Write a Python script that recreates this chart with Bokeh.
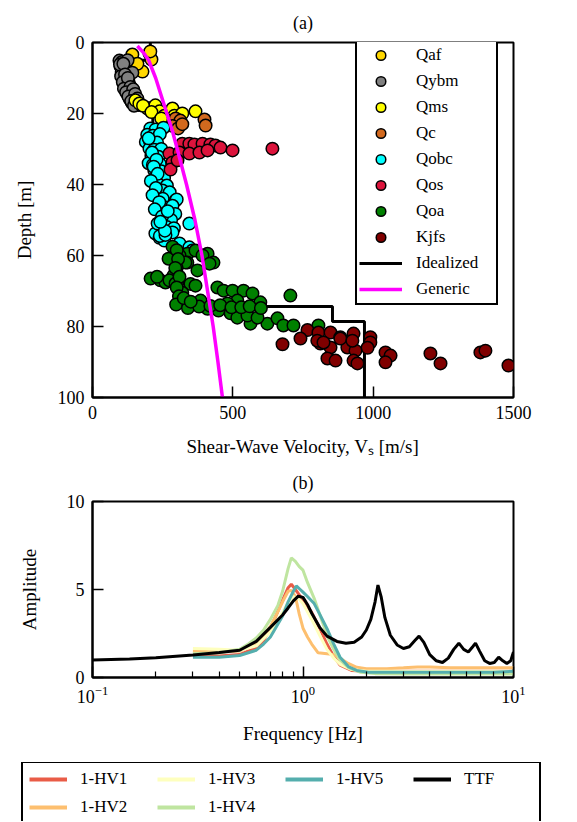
from bokeh.plotting import figure
from bokeh.models import Range1d, Legend, LegendItem, FixedTicker
from bokeh.layouts import column
from bokeh.embed import file_html
from bokeh.resources import INLINE

FONT = "Liberation Serif"

# ---------------- (a) data: (Vs [m/s], depth [m]) per unit ----------------
qaf_vs = [142, 203, 210, 178, 206, 160]
qaf_d = [3.4, 3.1, 4.8, 8.2, 2.5, 6.0]

qybm_vs = [96, 105, 112, 100, 108, 118, 104, 114, 122, 110, 119, 128, 115, 124, 134,
           120, 130, 142, 126, 137, 150, 133, 146, 158, 140, 155, 165, 125, 142, 132,
           98, 110, 102, 116, 108, 126, 112, 135, 120, 145, 128, 152, 138, 160, 148]
qybm_d = [5.1, 5.5, 6.0, 6.8, 7.2, 7.6, 8.3, 8.8, 9.2, 9.9, 10.5, 11.0, 11.6, 12.1, 12.6,
          13.2, 13.7, 14.1, 14.6, 15.0, 15.5, 15.9, 16.3, 16.6, 17.0, 17.3, 17.6, 5.0, 8.5, 12.0,
          6.2, 6.0, 9.5, 9.0, 11.2, 10.0, 13.0, 12.5, 14.0, 13.2, 15.2, 14.5, 16.5, 15.8, 17.8]

qms_vs = [153, 167, 196, 224, 239, 256, 285, 292, 320, 367, 267, 180, 210, 245]
qms_d = [16.3, 17.2, 18.6, 17.7, 19.4, 20.6, 18.6, 20.6, 20.0, 19.4, 22.0, 17.8, 19.6, 21.4]

qc_vs = [296, 313, 399, 403, 285, 305, 320]
qc_d = [21.4, 22.0, 21.7, 23.4, 23.5, 24.2, 23.0]

qobc_vs = [206, 225, 253, 195, 215, 240, 190, 205, 230, 203, 220, 245, 210, 235, 200,
           215, 240, 220, 245, 225, 255, 235, 265, 249, 275, 250, 296, 300, 260, 285,
           270, 295, 280, 345, 265, 290, 224, 239, 256, 285, 310, 345, 356, 240, 260,
           200, 212, 228, 218, 232, 208, 226, 214, 238, 222, 248, 232, 258, 242, 268]
qobc_d = [24.2, 24.5, 24.0, 26.0, 26.3, 25.8, 28.0, 27.8, 28.2, 29.9, 30.2, 30.0, 32.0, 32.2, 34.0,
          34.5, 34.2, 36.0, 36.3, 38.0, 38.2, 40.0, 40.3, 41.7, 42.2, 44.0, 44.5, 44.2, 46.5, 46.0,
          48.0, 48.3, 50.0, 51.0, 52.0, 52.3, 53.8, 55.0, 55.8, 53.5, 56.6, 57.7, 58.6, 54.5, 54.2,
          27.0, 31.0, 33.0, 35.0, 37.0, 39.0, 41.0, 43.0, 45.0, 47.0, 49.0, 51.0, 53.0, 50.5, 47.5]

qos_vs = [320, 345, 363, 392, 420, 438, 456, 499, 641, 274, 310, 345, 381, 410, 285, 278, 303]
qos_d = [28.5, 28.5, 28.7, 28.5, 28.7, 29.0, 29.6, 30.4, 29.9, 31.3, 31.0, 31.3, 31.0, 30.4, 33.8, 35.8, 33.2]

qoa_vs = [271, 338, 410, 431, 338, 374, 207, 242, 260, 303, 289, 349, 367, 385, 410, 449,
          492, 516, 563, 623, 659, 680, 716, 705, 445, 467, 499, 538, 570, 598, 516, 481,
          552, 588, 367, 392, 310, 331, 417, 274, 296, 805, 230, 320, 300, 285,
          300, 305, 295, 310, 300, 308, 298, 340, 380, 420, 455, 495, 530, 560, 600, 325, 350]
qoa_d = [60.9, 59.5, 59.5, 62.0, 62.0, 64.2, 66.5, 67.0, 67.6, 67.6, 65.6, 68.0, 68.5, 72.7, 75.0, 75.5,
         76.3, 77.5, 79.2, 79.2, 77.7, 79.7, 79.7, 71.3, 69.0, 69.9, 69.9, 69.9, 70.7, 73.2, 72.7, 73.5,
         76.9, 77.5, 58.6, 60.0, 60.0, 62.0, 62.3, 67.0, 67.9, 79.7, 66.0, 70.5, 63.5, 57.5,
         58.5, 61.0, 63.5, 66.0, 69.0, 71.5, 73.8, 74.8, 74.4, 74.2, 74.0, 74.6, 74.6, 74.3, 74.8, 72.0, 73.0]

kjfs_vs = [766, 805, 848, 883, 930, 990, 990, 980, 812, 848, 908, 937, 837, 866, 930, 944,
           1044, 1062, 1044, 1204, 1240, 1382, 1400, 1482, 741, 677, 801, 823, 883, 926]
kjfs_d = [81.0, 81.7, 81.7, 83.0, 82.0, 83.0, 84.5, 86.0, 84.8, 85.9, 85.9, 86.8, 89.0, 89.6, 89.6, 90.4,
          87.3, 88.2, 90.1, 87.6, 90.4, 87.3, 86.8, 91.0, 83.4, 85.0, 84.0, 84.5, 83.4, 84.0]

ideal_vs = [206, 206, 120, 120, 215, 215, 212, 212, 262, 262, 300, 300, 855, 855, 969, 969]
ideal_d = [0, 5, 5, 17, 17, 25, 25, 40, 40, 57, 57, 74.4, 74.4, 78.6, 78.6, 100]

gen_vs = [160, 183, 200, 225, 245, 265, 285, 302, 335, 365, 390, 410, 430, 447, 463]
gen_d = [1, 3, 5, 10, 15, 20, 25, 30, 40, 50, 60, 70, 80, 90, 100]

units = [
    ("Qaf", "#FFD700", qaf_vs, qaf_d),
    ("Qybm", "#808080", qybm_vs, qybm_d),
    ("Qms", "#FFFF00", qms_vs, qms_d),
    ("Qc", "#D2691E", qc_vs, qc_d),
    ("Qobc", "#00FFFF", qobc_vs, qobc_d),
    ("Qos", "#DC143C", qos_vs, qos_d),
    ("Qoa", "#008000", qoa_vs, qoa_d),
    ("Kjfs", "#800000", kjfs_vs, kjfs_d),
]

vs_ticks = [0, 500, 1000, 1500]
depth_ticks = [0, 20, 40, 60, 80, 100]

# ---------------- (b) data ----------------
ttf_f = [0.1, 0.15, 0.2, 0.3, 0.4, 0.5, 0.6, 0.7, 0.8, 0.85, 0.9, 0.95, 1.0, 1.05, 1.1, 1.2, 1.3,
         1.45, 1.6, 1.75, 1.9, 2.0, 2.1, 2.2, 2.27, 2.35, 2.45, 2.6, 2.8, 3.0, 3.2, 3.4, 3.56,
         3.75, 4.0, 4.3, 4.6, 4.9, 5.2, 5.5, 5.8, 6.1, 6.4, 6.6, 6.9, 7.3, 7.7, 8.1, 8.5, 8.9,
         9.3, 9.7, 10]
ttf_a = [1.0, 1.05, 1.12, 1.28, 1.42, 1.55, 2.05, 2.85, 3.55, 3.95, 4.35, 4.62, 4.55, 4.15, 3.65,
         2.85, 2.35, 2.05, 1.95, 2.0, 2.3, 2.7, 3.3, 4.3, 5.25, 4.6, 3.4, 2.4, 1.85, 1.65, 1.75,
         2.1, 2.35, 2.0, 1.3, 0.95, 0.85, 1.1, 1.6, 1.95, 1.6, 1.45, 1.75, 1.95, 1.5, 0.95, 0.8,
         0.85, 1.15, 0.95, 0.8, 0.95, 1.45]

hv1_f = [0.3, 0.4, 0.5, 0.6, 0.65, 0.7, 0.75, 0.8, 0.85, 0.88, 0.92, 0.96, 1.0, 1.1, 1.2, 1.3,
         1.4, 1.5, 1.7, 2.0, 2.5, 3, 4, 5, 6, 7, 8, 9, 10]
hv1_a = [1.3, 1.22, 1.3, 1.7, 2.1, 2.8, 3.6, 4.4, 5.1, 5.3, 5.0, 4.7, 4.4, 3.7, 2.8, 1.9,
         1.2, 0.7, 0.4, 0.35, 0.35, 0.35, 0.35, 0.35, 0.35, 0.35, 0.35, 0.35, 0.35]

hv2_f = [0.3, 0.4, 0.5, 0.6, 0.7, 0.75, 0.8, 0.85, 0.88, 0.92, 0.96, 1.0, 1.05, 1.1, 1.18, 1.3,
         1.4, 1.5, 1.64, 1.8, 2.0, 2.5, 3, 3.5, 4, 5, 6, 7, 8, 10]
hv2_a = [1.5, 1.45, 1.5, 1.9, 2.9, 3.6, 4.3, 4.9, 4.95, 4.6, 3.6, 2.8, 2.3, 1.9, 1.4, 1.35,
         1.3, 1.1, 0.8, 0.58, 0.5, 0.5, 0.55, 0.6, 0.6, 0.55, 0.55, 0.55, 0.55, 0.55]

hv3_f = [0.3, 0.4, 0.5, 0.6, 0.7, 0.8, 0.85, 0.9, 0.95, 1.0, 1.1, 1.2, 1.3, 1.4, 1.5, 1.7,
         2.0, 3, 4, 5, 6, 8, 10]
hv3_a = [1.65, 1.6, 1.55, 1.8, 2.6, 3.7, 4.3, 4.6, 4.5, 4.2, 3.3, 2.4, 1.6, 1.1, 0.75, 0.45,
         0.35, 0.35, 0.35, 0.35, 0.35, 0.35, 0.35]

hv4_f = [0.3, 0.4, 0.5, 0.55, 0.6, 0.65, 0.7, 0.76, 0.8, 0.85, 0.88, 0.92, 0.96, 1.0, 1.05,
         1.13, 1.2, 1.31, 1.4, 1.5, 1.65, 1.88, 2.2, 3, 4, 6, 8, 10]
hv4_a = [1.35, 1.4, 1.6, 1.9, 2.25, 2.7, 3.3, 4.1, 4.9, 6.2, 6.8, 6.6, 6.3, 6.1, 5.4,
         4.5, 3.6, 2.3, 1.6, 1.0, 0.55, 0.3, 0.22, 0.2, 0.2, 0.2, 0.2, 0.2]

hv5_f = [0.3, 0.4, 0.5, 0.6, 0.65, 0.7, 0.8, 0.85, 0.9, 0.93, 0.97, 1.0, 1.05, 1.13, 1.2, 1.31,
         1.4, 1.5, 1.65, 1.8, 2.05, 3, 5, 8, 10]
hv5_a = [1.15, 1.15, 1.25, 1.55, 1.9, 2.3, 3.5, 4.3, 4.9, 5.2, 5.0, 4.85, 4.6, 4.2, 3.6, 2.7,
         1.9, 1.15, 0.6, 0.4, 0.3, 0.3, 0.3, 0.3, 0.35]

hv_series = [
    ("1-HV1", "#e95c47", hv1_f, hv1_a),
    ("1-HV2", "#fdbf6f", hv2_f, hv2_a),
    ("1-HV3", "#feffbe", hv3_f, hv3_a),
    ("1-HV4", "#bfe5a0", hv4_f, hv4_a),
    ("1-HV5", "#54aead", hv5_f, hv5_a),
]
ttf_color = "black"

freq_major = [0.1, 1, 10]
freq_minor = [0.2, 0.3, 0.4, 0.5, 0.6, 0.7, 0.8, 0.9, 2, 3, 4, 5, 6, 7, 8, 9]
amp_ticks = [0, 5, 10]


def style_axes(p):
    for ax in (p.xaxis, p.yaxis):
        ax.axis_line_width = 2
        ax.axis_line_color = "black"
        ax.major_tick_in = 11
        ax.major_tick_out = 0
        ax.major_tick_line_width = 1.5
        ax.minor_tick_in = 6
        ax.minor_tick_out = 0
        ax.minor_tick_line_width = 1.2
        ax.major_label_text_font = FONT
        ax.major_label_text_font_size = "18px"
        ax.major_label_text_color = "black"
        ax.major_label_standoff = 8
        ax.axis_label_text_font = FONT
        ax.axis_label_text_font_size = "19px"
        ax.axis_label_text_font_style = "normal"
        ax.axis_label_text_color = "black"
    p.outline_line_color = "black"
    p.outline_line_width = 2
    p.outline_line_alpha = 1
    p.xgrid.visible = False
    p.ygrid.visible = False
    p.title.align = "center"
    p.title.text_font = FONT
    p.title.text_font_size = "18px"
    p.title.text_font_style = "normal"
    p.title.text_color = "black"


# ---------------- figure (a) ----------------
p1 = figure(frame_width=421, frame_height=355, min_border_left=92, min_border_right=35,
            min_border_top=42, min_border_bottom=65, title="(a)",
            x_range=Range1d(0, 1500), y_range=Range1d(100, 0),
            output_backend="svg", toolbar_location=None)
style_axes(p1)
p1.title.standoff = 16
p1.title.vertical_align = "top"
p1.xaxis.ticker = FixedTicker(ticks=vs_ticks)
p1.yaxis.ticker = FixedTicker(ticks=depth_ticks)
p1.xaxis.minor_tick_line_color = None
p1.yaxis.minor_tick_line_color = None
p1.yaxis.axis_label = "Depth [m]"
p1.yaxis.axis_label_standoff = 20
p1.xaxis.axis_label = "Shear-Wave Velocity, Vₛ [m/s]"
p1.xaxis.axis_label_standoff = 14

r_ideal = p1.line(ideal_vs, ideal_d, line_color="black", line_width=3)
items1 = []
for name, col, xs, ys in units:
    r = p1.scatter(xs, ys, size=12.5, fill_color=col, line_color="black", line_width=1.5)
    items1.append(LegendItem(label=name, renderers=[r]))
r_gen = p1.line(gen_vs, gen_d, line_color="#FF00FF", line_width=3.5)
items1.append(LegendItem(label="Idealized", renderers=[r_ideal]))
items1.append(LegendItem(label="Generic", renderers=[r_gen]))

leg1 = Legend(items=items1, location=(263, 92), padding=2, spacing=2,
              glyph_width=43, glyph_height=24, label_height=24, label_width=78,
              label_standoff=14, margin=0,
              label_text_font=FONT, label_text_font_size="17px", label_text_color="black",
              border_line_color="black", border_line_width=2, border_line_alpha=1,
              background_fill_color="white", background_fill_alpha=1)
p1.add_layout(leg1, "center")

# ---------------- figure (b) ----------------
p2 = figure(frame_width=421, frame_height=176, min_border_left=92, min_border_right=35,
            min_border_top=39, min_border_bottom=80, title="(b)",
            x_axis_type="log", x_range=Range1d(0.1, 10), y_range=Range1d(0, 10),
            output_backend="svg", toolbar_location=None)
style_axes(p2)
p2.title.standoff = 17
p2.xaxis.ticker = FixedTicker(ticks=freq_major, minor_ticks=freq_minor)
p2.yaxis.ticker = FixedTicker(ticks=amp_ticks)
p2.yaxis.minor_tick_line_color = None
p2.xaxis.axis_label = "Frequency [Hz]"
p2.xaxis.axis_label_standoff = 17
p2.yaxis.axis_label = "Amplitude"
p2.yaxis.axis_label_standoff = 24

for name, col, xs, ys in hv_series:
    p2.line(xs, ys, line_color=col, line_width=3)
p2.line(ttf_f, ttf_a, line_color=ttf_color, line_width=3)

# ---------------- legend strip for (b) ----------------
# same series drawn again here only as legend proxies; the ranges keep them out of view
p3 = figure(frame_width=527, frame_height=59, min_border_left=21, min_border_right=0,
            min_border_top=5, min_border_bottom=0,
            x_range=Range1d(100, 101), y_range=Range1d(100, 101),
            x_axis_location=None, y_axis_location=None,
            output_backend="svg", toolbar_location=None)
p3.outline_line_color = None
p3.xgrid.visible = False
p3.ygrid.visible = False

proxy = {}
for name, col, xs, ys in hv_series:
    proxy[name] = p3.line(xs, ys, line_color=col, line_width=4)
proxy["TTF"] = p3.line(ttf_f, ttf_a, line_color=ttf_color, line_width=4)

order = ["1-HV1", "1-HV3", "1-HV5", "TTF", "1-HV2", "1-HV4"]
items2 = [LegendItem(label=n, renderers=[proxy[n]]) for n in order]
leg2 = Legend(items=items2, location=(14, -4), orientation="horizontal", ncols=4,
              padding=6, spacing=8, glyph_width=38, glyph_height=20, label_height=20,
              label_width=69, label_standoff=13, margin=0,
              label_text_font=FONT, label_text_font_size="17px", label_text_color="black",
              border_line_color="black", border_line_width=2, border_line_alpha=1,
              background_fill_color="white", background_fill_alpha=1)
p3.add_layout(leg2, "center")

layout = column(p1, p2, p3)
open("out.html", "w").write(file_html(layout, INLINE))
